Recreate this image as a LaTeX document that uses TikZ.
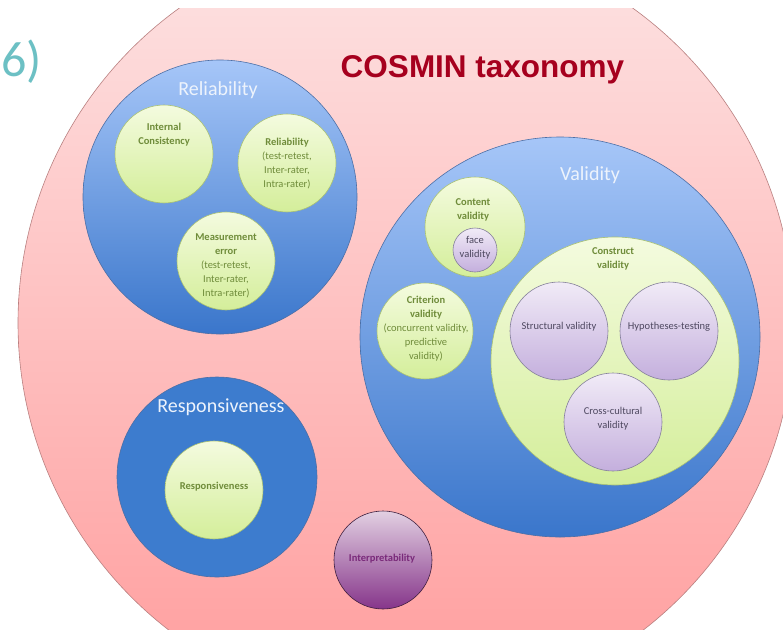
\documentclass[tikz,border=0pt]{standalone}
\usepackage{fontspec}
\setmainfont{Carlito}
\newfontfamily\titlefont{Liberation Sans}
\definecolor{pinkT}{HTML}{FDE4E4}
\definecolor{pinkB}{HTML}{FF9C9C}
\definecolor{pinkL}{HTML}{B98080}
\definecolor{blueT}{HTML}{A6C6F8}
\definecolor{blueB}{HTML}{3A76CB}
\definecolor{blueD}{HTML}{3D7CCE}
\definecolor{blueL}{HTML}{4C6FA6}
\definecolor{greenT}{HTML}{F4FBDF}
\definecolor{greenB}{HTML}{D4EE9A}
\definecolor{greenL}{HTML}{A9C173}
\definecolor{greenTx}{HTML}{6F8C3A}
\definecolor{purT}{HTML}{F1EBF7}
\definecolor{purB}{HTML}{C4AFDD}
\definecolor{purL}{HTML}{85809A}
\definecolor{purTx}{HTML}{4E4860}
\definecolor{intT}{HTML}{E2D0E2}
\definecolor{intB}{HTML}{86358A}
\definecolor{intL}{HTML}{3E1F3E}
\definecolor{intTx}{HTML}{7A2A7A}
\definecolor{titleC}{HTML}{A6001E}
\definecolor{tealC}{HTML}{6CC0C4}
\definecolor{headC}{HTML}{EDF3FC}
\tikzset{
  ring/.style={circle, inner sep=0pt, line width=0.6pt},
  bluec/.style={ring, draw=blueL, top color=blueT, bottom color=blueB},
  greenc/.style={ring, draw=greenL, top color=greenT, bottom color=greenB, minimum size=98pt},
  purc/.style={ring, draw=purL, top color=purT, bottom color=purB, minimum size=98pt},
  head/.style={text=headC, font=\fontsize{20}{24}\selectfont},
  gtxt/.style={text=greenTx, align=center, font=\fontsize{10.5}{14}\selectfont},
  ptxt/.style={text=purTx, align=center, font=\fontsize{10.5}{14}\selectfont},
}
\begin{document}
\begin{tikzpicture}[x=1pt,y=-1pt]
\useasboundingbox (0,0) rectangle (783,629);
\clip (0,0) rectangle (783,629);
\fill[white] (0,0) rectangle (783,629);
% outer pink circle, cut at the top
\begin{scope}
  \clip (0,8) rectangle (783,629);
  \node[ring, draw=pinkL, top color=pinkT, bottom color=pinkB, minimum size=776pt] (all) at (406,323) {};
\end{scope}
\node[text=tealC, font=\fontsize{50}{56}\selectfont, anchor=base west, inner sep=0pt] (pct) at (1,76) {6)};
\node[text=titleC, font=\titlefont\bfseries\fontsize{31.5}{36}\selectfont, anchor=base, inner sep=0pt] (title) at (482.5,77) {COSMIN taxonomy};
% big blue circles
\node[bluec, minimum size=274pt] (rel) at (220,197) {};
\node[bluec, minimum size=400pt] (val) at (560,337) {};
\node[ring, draw=blueL, fill=blueD, minimum size=200pt] (resp) at (217,477) {};
\node[head] (relT) at (218,90) {Reliability};
\node[head] (valT) at (590,175) {Validity};
\node[head] (respT) at (221,407) {Responsiveness};
% reliability
\node[greenc] (ic) at (164,154) {};
\node[gtxt] (icT) at (164,135) {\bfseries Internal\\\bfseries Consistency};
\node[greenc] (rr) at (287,163) {};
\node[gtxt] (rrT) at (287,164) {\bfseries Reliability\\(test-retest,\\Inter-rater,\\Intra-rater)};
\node[greenc] (me) at (226,261) {};
\node[gtxt] (meT) at (226,265.5) {\bfseries Measurement\\\bfseries error\\(test-retest,\\Inter-rater,\\Intra-rater)};
% validity
\node[greenc, minimum size=100pt] (cv) at (475,227) {};
\node[gtxt] (cvT) at (473,210) {\bfseries Content\\\bfseries validity};
\node[purc, minimum size=44pt] (fv) at (475,250) {};
\node[ptxt] (fvT) at (475,248) {face\\validity};
\node[greenc, minimum size=96pt] (crit) at (425,331) {};
\node[gtxt] (critT) at (426,329) {\bfseries Criterion\\\bfseries validity\\(concurrent validity,\\predictive\\validity)};
\node[greenc, minimum size=248pt] (con) at (615,361) {};
\node[gtxt] (conT) at (613,259) {\bfseries Construct\\\bfseries validity};
\node[purc] (sv) at (559,331) {};
\node[ptxt] (svT) at (559,327) {Structural validity};
\node[purc] (ht) at (669,331) {};
\node[ptxt] (htT) at (669,327) {Hypotheses-testing};
\node[purc] (cc) at (613,422) {};
\node[ptxt] (ccT) at (613,419) {Cross-cultural\\validity};
% responsiveness
\node[greenc] (rs) at (214,490) {};
\node[gtxt] (rsT) at (214,487) {\bfseries Responsiveness};
% interpretability
\node[ring, draw=intL, top color=intT, bottom color=intB, minimum size=98pt] (int) at (383,560) {};
\node[text=intTx, font=\fontsize{10.5}{14}\selectfont\bfseries] (intT) at (382,559) {Interpretability};
\end{tikzpicture}
\end{document}
